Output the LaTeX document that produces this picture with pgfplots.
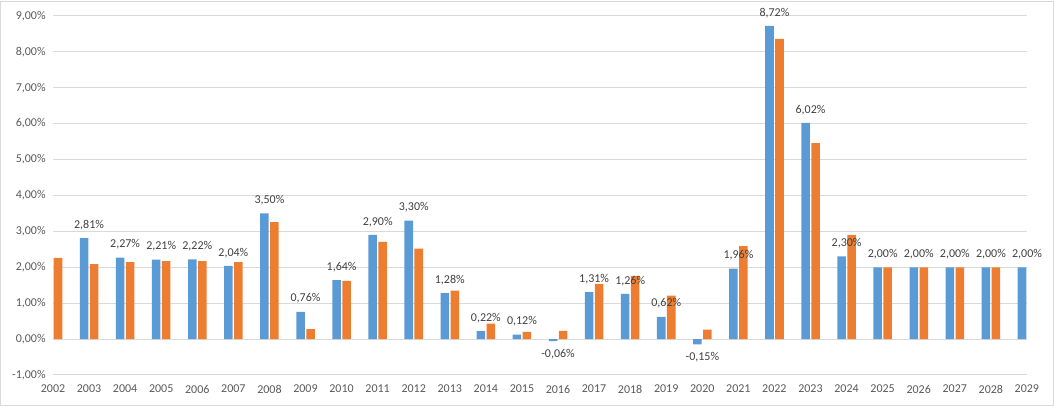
\documentclass[border=0pt]{standalone}
\usepackage{fontspec}
\setmainfont{Carlito}
\usepackage{pgfplots}
\usepackage{pgfplotstable}
\pgfplotsset{compat=1.18}

\definecolor{serieA}{HTML}{5B9BD5}
\definecolor{serieB}{HTML}{ED7D31}
\definecolor{rejilla}{HTML}{D9D9D9}
\definecolor{etiq}{HTML}{595959}
\definecolor{dato}{HTML}{404040}

% serie azul (con etiquetas)
\pgfplotstableread{
anio valor
2003 2.81
2004 2.27
2005 2.21
2006 2.22
2007 2.04
2008 3.50
2009 0.76
2010 1.64
2011 2.90
2012 3.30
2013 1.28
2014 0.22
2015 0.12
2016 -0.06
2017 1.31
2018 1.26
2019 0.62
2020 -0.15
2021 1.96
2022 8.72
2023 6.02
2024 2.30
2025 2.00
2026 2.00
2027 2.00
2028 2.00
2029 2.00
}\tablaA

% serie naranja
\pgfplotstableread{
anio valor
2002 2.26
2003 2.09
2004 2.14
2005 2.17
2006 2.17
2007 2.14
2008 3.26
2009 0.28
2010 1.62
2011 2.71
2012 2.52
2013 1.35
2014 0.43
2015 0.20
2016 0.23
2017 1.54
2018 1.76
2019 1.21
2020 0.26
2021 2.59
2022 8.36
2023 5.46
2024 2.90
2025 2.00
2026 2.00
2027 2.00
2028 2.00
}\tablaB

\begin{document}
\begin{tikzpicture}
\begin{axis}[
    scale only axis,
    width=730.5pt, height=269.25pt,
    xmin=2002, xmax=2029,
    ymin=-1, ymax=9,
    clip=false,
    axis line style={draw=none},
    major tick style={draw=none},
    ymajorgrids,
    grid style={rejilla, line width=0.75pt},
    xtick={2002,...,2029},
    ytick={-1,0,...,9},
    /pgf/number format/assume math mode=true,
    ticklabel style={font=\fontsize{9}{10}\selectfont, text=etiq},
    xticklabel style={/pgf/number format/1000 sep=, yshift=-4pt},
    yticklabel={\pgfmathprintnumber[fixed,zerofill,precision=2,use comma]{\tick}\%},
    yticklabel style={xshift=-2pt},
]
\addplot[ybar, bar width=6.4pt, bar shift=-3.75pt, fill=serieA, draw=none,
    nodes near coords={\pgfmathprintnumber[fixed,zerofill,precision=2,use comma]{\pgfplotspointmeta}\%},
    nodes near coords align={vertical},
    nodes near coords style={font=\fontsize{9}{10}\selectfont, text=dato, inner xsep=0pt, inner ysep=6pt}]
    table[x=anio, y=valor] {\tablaA};
\addplot[ybar, bar width=6.4pt, bar shift=3.75pt, fill=serieB, draw=none]
    table[x=anio, y=valor] {\tablaB};
\end{axis}
\draw[rejilla, line width=0.75pt] (-39.375pt,-22.875pt) rectangle (750.375pt,280.125pt);
\end{tikzpicture}
\end{document}
